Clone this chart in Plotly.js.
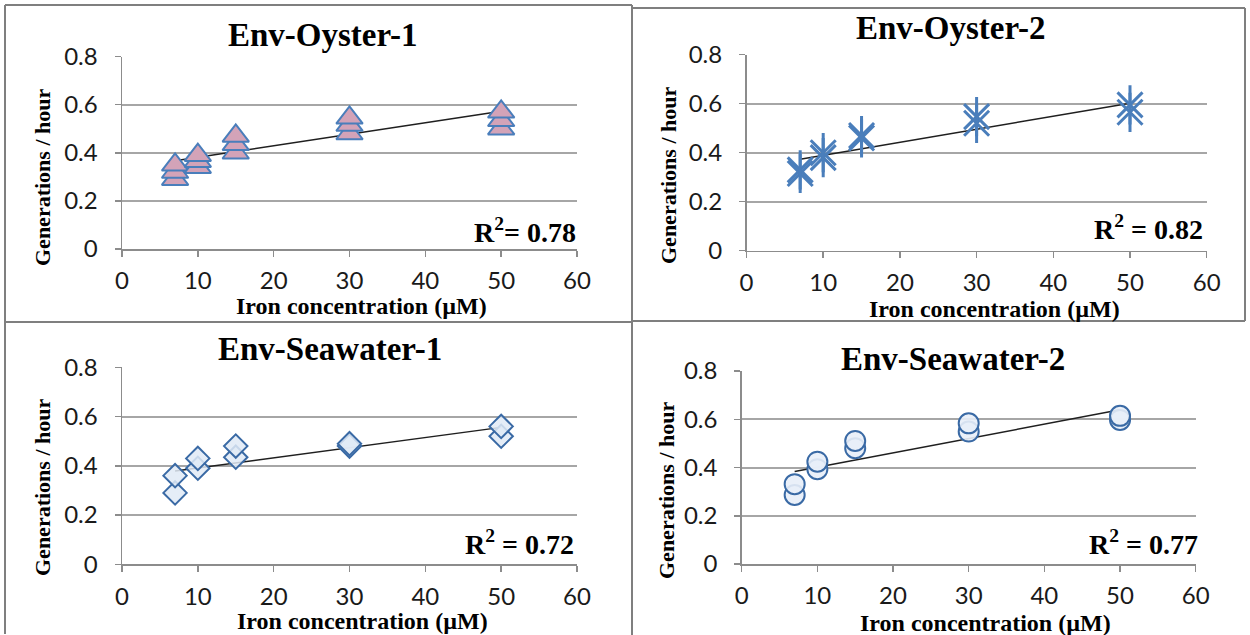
<!DOCTYPE html>
<html>
<head>
<meta charset="utf-8">
<script src="https://cdn.plot.ly/plotly-3.0.1.min.js"></script>
<style>
html,body{margin:0;padding:0;background:#fff;}
#chart{width:1250px;height:635px;}
</style>
</head>
<body>
<div id="chart"></div>
<script>
// ---------------- data ----------------
const panelTitles = ['Env-Oyster-1', 'Env-Oyster-2', 'Env-Seawater-1', 'Env-Seawater-2'];
const r2Labels = ['R<sup>2</sup>= 0.78', 'R<sup>2</sup> = 0.82', 'R<sup>2</sup> = 0.72', 'R<sup>2</sup> = 0.77'];
const xTitle = 'Iron concentration (µM)';
const yTitle = 'Generations / hour';
const xTickVals = [0, 10, 20, 30, 40, 50, 60];
const yTickVals = [0, 0.2, 0.4, 0.6, 0.8];
const yTickText = ['0', '0.2', '0.4', '0.6', '0.8'];

const oyster1X = [7, 7, 7, 10, 10, 10, 15, 15, 15, 30, 30, 30, 50, 50, 50];
const oyster1Y = [0.29, 0.32, 0.35, 0.34, 0.365, 0.39, 0.40, 0.435, 0.47, 0.48, 0.515, 0.545, 0.50, 0.535, 0.57];
const oyster2X = [7, 7, 10, 10, 15, 15, 30, 30, 50, 50];
const oyster2Y = [0.315, 0.33, 0.38, 0.40, 0.46, 0.47, 0.52, 0.547, 0.565, 0.595];
const seawater1X = [7, 7, 10, 10, 15, 15, 30, 30, 50, 50];
const seawater1Y = [0.29, 0.36, 0.39, 0.43, 0.435, 0.48, 0.48, 0.49, 0.52, 0.56];
const seawater2X = [7, 7, 10, 10, 15, 15, 30, 30, 50, 50];
const seawater2Y = [0.286, 0.331, 0.393, 0.424, 0.48, 0.51, 0.549, 0.583, 0.597, 0.614];

const trendX = [7, 50];
const trend1Y = [0.367, 0.572];
const trend2Y = [0.373, 0.602];
const trend3Y = [0.379, 0.556];
const trend4Y = [0.383, 0.639];

// ---------------- layout helpers (pixel geometry) ----------------
const W = 1250, H = 635;
const px = v => v / W;
const py = v => 1 - v / H;

// plot areas [left, right, top, bottom] in px
const areas = [
  [122, 577, 56.5, 249],
  [746.5, 1206.7, 54.7, 250.7],
  [122, 577, 367.3, 564.3],
  [741.7, 1195.7, 371, 564]
];
const titlePos = [[322, 35], [950, 28], [330, 349], [953, 359]];
const r2Pos = [[578, 230], [1205, 227], [576, 542], [1200, 542]];
const xTitlePos = [[361, 306], [994, 309], [362, 621], [986, 623]];
const yTitlePos = [[42, 178], [668, 176], [42, 488], [666, 491]];

const gray = '#8c8c8c';
const tickFont = {family: 'Lato, "Liberation Sans", sans-serif', size: 24, color: '#1a1a1a'};
const serif = '"Liberation Serif", "Times New Roman", serif';

const layout = {
  width: W, height: H,
  margin: {l: 0, r: 0, t: 0, b: 0},
  paper_bgcolor: '#fff', plot_bgcolor: '#fff',
  showlegend: false,
  annotations: [],
  shapes: []
};

areas.forEach((a, i) => {
  const n = i === 0 ? '' : String(i + 1);
  layout['xaxis' + n] = {
    domain: [px(a[0]), px(a[1])], range: [0, 60], anchor: 'y' + n,
    tickvals: xTickVals, ticks: 'outside', ticklen: 6, tickwidth: 1.5, tickcolor: gray,
    showline: true, linecolor: gray, linewidth: 1.5, showgrid: false, zeroline: false,
    tickfont: tickFont, ticklabelstandoff: 4, fixedrange: true
  };
  layout['yaxis' + n] = {
    domain: [py(a[3]), py(a[2])], range: [0, 0.8], anchor: 'x' + n,
    tickvals: yTickVals, ticktext: yTickText, ticks: 'outside', ticklen: 6, tickwidth: 1.5, tickcolor: gray,
    showline: true, linecolor: gray, linewidth: 1.5,
    showgrid: true, gridcolor: '#a6a6a6', gridwidth: 2, zeroline: false,
    tickfont: tickFont, ticklabelstandoff: 12, fixedrange: true
  };
  layout.annotations.push({
    text: '<b>' + panelTitles[i] + '</b>', xref: 'paper', yref: 'paper',
    x: px(titlePos[i][0]), y: py(titlePos[i][1]), xanchor: 'center', yanchor: 'middle',
    showarrow: false, font: {family: serif, size: 33, color: '#000'}
  });
  layout.annotations.push({
    text: '<b>' + r2Labels[i] + '</b>', xref: 'paper', yref: 'paper',
    x: px(r2Pos[i][0]), y: py(r2Pos[i][1]), xanchor: 'right', yanchor: 'middle',
    showarrow: false, font: {family: serif, size: 28, color: '#000'}
  });
  layout.annotations.push({
    text: '<b>' + xTitle + '</b>', xref: 'paper', yref: 'paper',
    x: px(xTitlePos[i][0]), y: py(xTitlePos[i][1]), xanchor: 'center', yanchor: 'middle',
    showarrow: false, font: {family: serif, size: 24, color: '#000'}
  });
  layout.annotations.push({
    text: '<b>' + yTitle + '</b>', xref: 'paper', yref: 'paper', textangle: -90,
    x: px(yTitlePos[i][0]), y: py(yTitlePos[i][1]), xanchor: 'center', yanchor: 'middle',
    showarrow: false, font: {family: serif, size: 22, color: '#000'}
  });
});

// panel frames
const frameLine = {color: '#7f7f7f', width: 2};
const seg = (x0, y0, x1, y1) => ({type: 'line', xref: 'paper', yref: 'paper',
  x0: px(x0), y0: py(y0), x1: px(x1), y1: py(y1), line: frameLine, layer: 'above'});
layout.shapes.push(seg(5, 5, 632, 5));
layout.shapes.push(seg(5, 5, 5, 634));
layout.shapes.push(seg(632, 8, 1245, 8));
layout.shapes.push(seg(1245, 8, 1245, 321));
layout.shapes.push(seg(632, 5, 632, 635));
layout.shapes.push(seg(5, 322, 632, 322));
layout.shapes.push(seg(632, 321, 1245, 321));

// ---------------- traces ----------------
const blue = '#4a7ebb';
const darkBlue = '#3a6aa5';
const trendLine = {color: '#1f1f1f', width: 1.5};

const traces = [
  // Panel 1
  {x: trendX, y: trend1Y, xaxis: 'x', yaxis: 'y', mode: 'lines', line: trendLine, hoverinfo: 'skip'},
  {x: oyster1X, y: oyster1Y, xaxis: 'x', yaxis: 'y', mode: 'markers',
   marker: {symbol: 'triangle-up', size: 23, color: '#d3a3b8', line: {color: blue, width: 2}}},
  // Panel 2
  {x: trendX, y: trend2Y, xaxis: 'x2', yaxis: 'y2', mode: 'lines', line: trendLine, hoverinfo: 'skip'},
  {x: oyster2X, y: oyster2Y, xaxis: 'x2', yaxis: 'y2', mode: 'markers',
   marker: {symbol: 'x-thin-open', size: 25, color: blue, line: {color: blue, width: 3}}},
  {x: oyster2X, y: oyster2Y, xaxis: 'x2', yaxis: 'y2', mode: 'markers',
   marker: {symbol: 'line-ns-open', size: 28, color: blue, line: {color: blue, width: 3}}},
  // Panel 3
  {x: trendX, y: trend3Y, xaxis: 'x3', yaxis: 'y3', mode: 'lines', line: trendLine, hoverinfo: 'skip'},
  {x: seawater1X, y: seawater1Y, xaxis: 'x3', yaxis: 'y3', mode: 'markers',
   marker: {symbol: 'diamond', size: 18, color: 'rgba(225,234,246,0.85)', line: {color: darkBlue, width: 2}}},
  // Panel 4
  {x: trendX, y: trend4Y, xaxis: 'x4', yaxis: 'y4', mode: 'lines', line: trendLine, hoverinfo: 'skip'},
  {x: seawater2X, y: seawater2Y, xaxis: 'x4', yaxis: 'y4', mode: 'markers',
   marker: {symbol: 'circle', size: 20, color: 'rgba(232,238,248,0.9)', line: {color: darkBlue, width: 2}}}
];

Plotly.newPlot('chart', traces, layout, {staticPlot: true, displayModeBar: false});
</script>
</body>
</html>
